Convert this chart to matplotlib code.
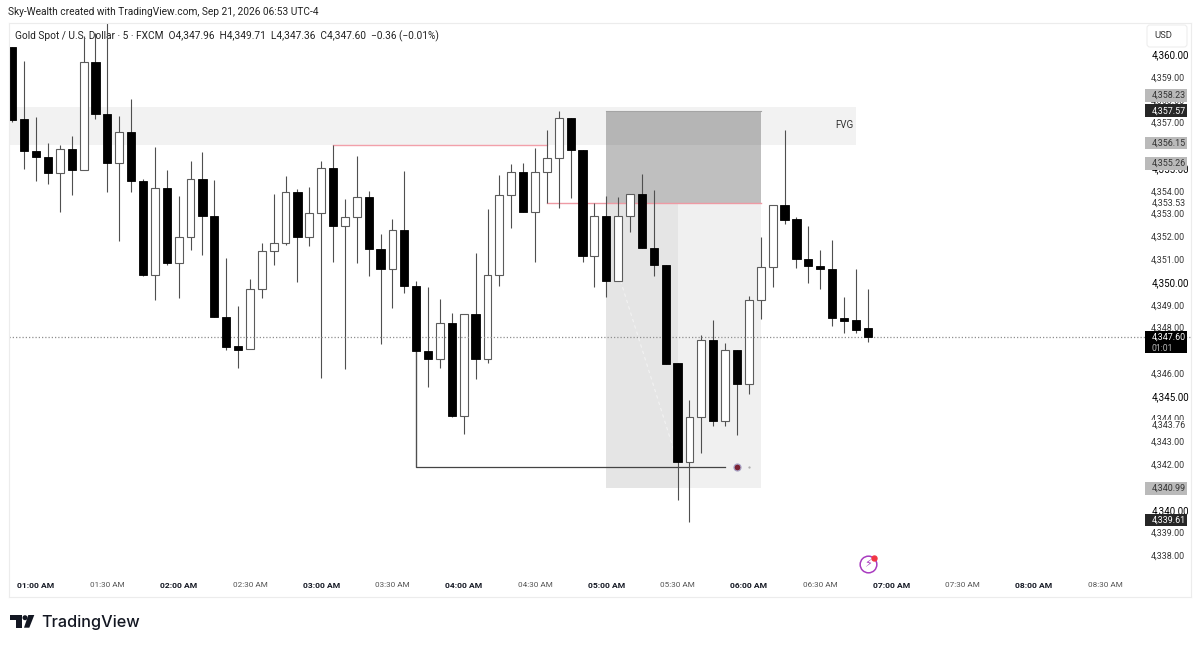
import matplotlib
matplotlib.use('Agg')
import matplotlib.pyplot as plt
from matplotlib.patches import Rectangle, Polygon, Circle, FancyBboxPatch
from matplotlib.transforms import Affine2D, blended_transform_factory

# candles, 5 min bars starting 00:50
opens = [4360.33, 4357.15, 4355.75, 4355.50, 4354.80, 4355.83, 4354.92, 4359.67, 4357.38, 4355.21,
         4356.57, 4354.42, 4350.32, 4354.14, 4350.82, 4351.99, 4354.51, 4352.89, 4348.45, 4347.19,
         4347.04, 4349.68, 4351.37, 4351.73, 4353.94, 4351.99, 4353.04, 4354.99, 4352.46, 4352.84,
         4353.72, 4351.44, 4350.57, 4352.27, 4349.81, 4346.97, 4346.63, 4348.19, 4344.13, 4348.58,
         4346.61, 4350.29, 4353.81, 4354.83, 4353.07, 4354.82, 4355.43, 4357.22, 4355.78, 4351.14,
         4352.91, 4350.06, 4352.91, 4353.85, 4351.49, 4350.75, 4346.43, 4342.08, 4344.08, 4347.45,
         4343.88, 4347.00, 4345.51, 4349.20, 4350.65, 4353.38, 4352.75, 4351.02, 4350.72, 4350.57,
         4348.42, 4348.32, 4347.96]
highs = [4360.33, 4359.72, 4357.23, 4356.09, 4356.00, 4356.41, 4360.80, 4360.94, 4361.39, 4357.29,
         4358.05, 4354.54, 4355.92, 4354.92, 4353.78, 4355.33, 4355.71, 4354.48, 4351.04, 4348.95,
         4350.13, 4351.73, 4353.87, 4354.66, 4354.07, 4354.16, 4355.30, 4356.02, 4353.66, 4355.53,
         4353.98, 4352.11, 4352.75, 4354.89, 4350.06, 4349.77, 4349.27, 4348.63, 4348.58, 4351.26,
         4353.19, 4354.69, 4355.18, 4355.21, 4355.87, 4356.68, 4357.51, 4357.22, 4355.78, 4353.46,
         4353.78, 4353.72, 4353.85, 4354.74, 4354.04, 4350.75, 4346.43, 4344.82, 4347.67, 4348.33,
         4347.31, 4347.00, 4349.40, 4351.96, 4353.38, 4356.68, 4352.84, 4352.46, 4351.39, 4351.85,
         4349.35, 4350.56, 4349.71]
lows = [4357.03, 4354.95, 4354.45, 4354.30, 4353.09, 4353.83, 4354.92, 4357.15, 4353.95, 4351.80,
        4353.95, 4350.26, 4349.21, 4350.76, 4349.31, 4351.41, 4351.17, 4348.45, 4347.01, 4346.24,
        4347.04, 4349.31, 4350.73, 4351.62, 4350.01, 4351.59, 4345.80, 4350.88, 4346.17, 4350.82,
        4350.28, 4347.28, 4348.85, 4349.53, 4341.88, 4345.38, 4346.24, 4344.08, 4343.33, 4345.74,
        4346.43, 4349.84, 4352.38, 4353.07, 4350.88, 4353.46, 4353.24, 4353.68, 4350.89, 4349.79,
        4349.33, 4350.06, 4352.21, 4351.48, 4350.26, 4346.40, 4340.43, 4339.45, 4342.48, 4343.68,
        4343.68, 4343.29, 4345.08, 4348.38, 4349.79, 4352.55, 4350.60, 4349.94, 4349.68, 4348.08,
        4347.75, 4347.75, 4347.36]
closes = [4357.11, 4355.75, 4355.50, 4354.80, 4355.83, 4354.92, 4359.67, 4357.38, 4355.21, 4356.57,
          4354.42, 4350.32, 4354.14, 4350.82, 4351.99, 4354.51, 4352.89, 4348.45, 4347.16, 4347.03,
          4349.68, 4351.37, 4351.73, 4353.94, 4351.99, 4353.04, 4354.99, 4352.46, 4352.84, 4353.72,
          4351.44, 4350.57, 4352.27, 4349.81, 4346.97, 4346.63, 4348.19, 4344.13, 4348.58, 4346.61,
          4350.29, 4353.81, 4354.83, 4353.07, 4354.83, 4355.43, 4357.22, 4355.78, 4351.14, 4352.91,
          4350.06, 4352.91, 4353.85, 4351.48, 4350.73, 4346.40, 4342.08, 4344.08, 4347.45, 4343.88,
          4347.00, 4345.51, 4349.20, 4350.65, 4353.38, 4352.72, 4351.02, 4350.70, 4350.56, 4348.41,
          4348.29, 4347.91, 4347.60]

# labels hidden behind tags in the chart are left out (4356, 4347, 4341)
price_ticks = [4360, 4359, 4358, 4357, 4355, 4354, 4353, 4352, 4351, 4350, 4349, 4348,
               4346, 4345, 4344, 4343, 4342, 4340, 4339, 4338]
major_prices = [4360, 4355, 4350, 4345, 4340]
time_labels = ['01:00 AM', '01:30 AM', '02:00 AM', '02:30 AM', '03:00 AM', '03:30 AM', '04:00 AM', '04:30 AM',
               '05:00 AM', '05:30 AM', '06:00 AM', '06:30 AM', '07:00 AM', '07:30 AM', '08:00 AM', '08:30 AM']
time_bars = [2, 8, 14, 20, 26, 32, 38, 44, 50, 56, 62, 68, 74, 80, 86, 92]

gray_tags = [4358.23, 4356.15, 4355.26, 4340.99]
dark_tags = [4357.57, 4339.61]
plain_tags = [4353.53, 4343.76]

last_price = 4347.60
fvg_top, fvg_bottom = 4357.67, 4356.03
box_top, box_mid, box_bottom = 4357.51, 4353.46, 4340.96
sweep_level = 4341.88
red_high = 4356.00

plt.rcParams['font.family'] = ['Roboto', 'DejaVu Sans']
W, H = 1199, 647
fig = plt.figure(figsize=(W / 100, H / 100), dpi=100, facecolor='white')
ax = fig.add_axes([8.5 / W, 1 - 597 / H, (1190.5 - 8.5) / W, (597 - 23) / H])

# pixel coords on the figure, y going down
px = Affine2D().scale(1 / W, -1 / H).translate(0, 1) + fig.transFigure

ax.set_xlim((8.5 - 12.3) / 11.88, (1190.5 - 12.3) / 11.88)
ax.set_ylim(4336.17, 4361.37)
for s in ax.spines.values():
    s.set_color('#ececec')
    s.set_linewidth(0.8)

# zones
ax.fill_between([-1, 71], fvg_bottom, fvg_top, color='#f2f2f2', lw=0, zorder=1)
ax.fill_between([50, 63], box_mid, box_top, color='black', alpha=0.25, lw=0, zorder=1.2)
ax.fill_between([50, 56], box_bottom, box_mid, color='black', alpha=0.10, lw=0, zorder=1.2)
ax.fill_between([56, 63], box_bottom, box_mid, color='black', alpha=0.06, lw=0, zorder=1.2)
ax.plot([50, 63], [box_top, box_top], color='#a4a4a4', lw=0.8, zorder=1.3)
ax.plot([51.2, 56], [4350.05, 4342.1], color='white', lw=0.8, ls=(0, (3, 3)), alpha=0.5, zorder=1.3)

# drawn levels
ax.plot([27, 45], [red_high, red_high], color='#f2a0aa', lw=1.0, zorder=1.5)
ax.plot([45, 63], [box_mid, box_mid], color='#ee9aa4', lw=1.0, zorder=1.5)
ax.plot([34, 34, 60], [4346.97, sweep_level, sweep_level], color='#444444', lw=0.9, zorder=1.5)

# candles
for i, (o, h, l, c) in enumerate(zip(opens, highs, lows, closes)):
    ax.plot([i, i], [l, h], color='#4f4f4f', lw=0.8, zorder=2, solid_capstyle='butt')
xs_up = [i for i in range(len(opens)) if closes[i] >= opens[i]]
xs_dn = [i for i in range(len(opens)) if closes[i] < opens[i]]
ax.bar(xs_up, [closes[i] - opens[i] for i in xs_up], bottom=[opens[i] for i in xs_up], width=0.66,
       facecolor='white', edgecolor='#5c5c5c', linewidth=0.8, zorder=2.1)
ax.axhline(last_price, color='#8f8f8f', lw=0.9, ls=(0, (1, 1.6)), zorder=2.2)
ax.bar(xs_dn, [closes[i] - opens[i] for i in xs_dn], bottom=[opens[i] for i in xs_dn], width=0.7,
       facecolor='black', edgecolor='black', linewidth=0.6, zorder=2.3)

# eye marker and lightning icon
ax.plot([61], [sweep_level], marker='o', ms=5, color='#7b2233', mec='#a8a2c4', mew=0.9, zorder=3)
ax.plot([62], [sweep_level], marker='.', ms=1.2, color='#aaaaaa', zorder=3)
ax.text(70, 4356.87, 'FVG', ha='center', va='center', fontsize=7, color='#333333', zorder=3)
ax.plot([72], [4337.62], marker='o', ms=12, mfc='white', mec='#a93cc0', mew=1.1, zorder=3)
ax.text(72, 4337.62, '\u26a1', ha='center', va='center', fontsize=8, color='#a93cc0', family='DejaVu Sans', zorder=3.1)
ax.plot([72.5], [4337.9], marker='o', ms=3.6, color='#f23645', zorder=3.2)

# price axis
trans = blended_transform_factory(ax.transAxes, ax.transData)
ax.yaxis.tick_right()
ax.set_yticks(price_ticks)
ax.set_yticklabels([f'{p:,.2f}' for p in price_ticks])
ax.tick_params(axis='y', length=0, pad=-28.3, labelsize=6.4, labelcolor='#333333')
for t, p in zip(ax.get_yticklabels(), price_ticks):
    if p in major_prices:
        t.set_fontsize(7)
        t.set_color('#000000')

# time axis
ax.set_xticks(time_bars)
ax.set_xticklabels(time_labels)
ax.tick_params(axis='x', length=0, pad=-10.8, labelsize=5.9, labelcolor='#555555')
for t, lab in zip(ax.get_xticklabels(), time_labels):
    if lab.endswith('00 AM'):
        t.set_fontweight('bold')
        t.set_fontsize(6.1)
        t.set_color('#131722')

# tags on the price axis
tag_x0 = (1145 - 8.5) / 1182
tag_w = 41.5 / 1182
text_x = (1151.5 - 8.5) / 1182
tag_off = 0.05
for p in gray_tags:
    ax.add_patch(Rectangle((tag_x0, p - tag_off - 0.275), tag_w, 0.55, transform=trans, fc='#bababa', ec='none', zorder=4, clip_on=False))
    ax.text(text_x, p - tag_off, f'{p:,.2f}', transform=trans, ha='left', va='center', fontsize=6.4, color='#333333', zorder=5)
for p in dark_tags:
    ax.add_patch(Rectangle((tag_x0, p - tag_off - 0.275), tag_w, 0.55, transform=trans, fc='#262626', ec='none', zorder=4, clip_on=False))
    ax.text(text_x, p - tag_off, f'{p:,.2f}', transform=trans, ha='left', va='center', fontsize=6.4, color='white', zorder=5)
for p in plain_tags:
    ax.add_patch(Rectangle((tag_x0, p - tag_off - 0.24), tag_w, 0.48, transform=trans, fc='white', ec='none', zorder=4))
    ax.text(text_x, p - tag_off, f'{p:,.2f}', transform=trans, ha='left', va='center', fontsize=6.4, color='#333333', zorder=5)
ax.add_patch(Rectangle((tag_x0, last_price - 0.72), tag_w, 0.95, transform=trans, fc='black', ec='none', zorder=4))
ax.text(text_x, last_price - 0.02, f'{last_price:,.2f}', transform=trans, ha='left', va='center', fontsize=6.4, color='white', zorder=5)
ax.text(text_x, last_price - 0.5, '01:01', transform=trans, ha='left', va='center', fontsize=6.2, color='#b8b8b8', zorder=5)

# text in the header
fig.text(8, 12, 'Sky-Wealth created with TradingView.com, Sep 21, 2026 06:53 UTC-4', transform=px,
         fontsize=7.26, color='#222222', va='center')
ax.text(15, 36, 'Gold Spot / U.S. Dollar \u00b7 5 \u00b7 FXCM  O4,347.96  H4,349.71  L4,347.36  C4,347.60  \u22120.36 (\u22120.01%)',
        transform=px, fontsize=7.28, color='#222222', va='center', zorder=1.8, clip_on=False)

# USD box
fig.patches.append(FancyBboxPatch((1149, 27), 36, 18, boxstyle='round,pad=2,rounding_size=3', transform=px,
                                  fc='white', ec='#eeeeee', lw=0.8, figure=fig))
fig.text(1163.5, 36, 'USD', transform=px, fontsize=6.8, color='#333333', ha='center', va='center')

# TradingView logo
fig.patches.append(Polygon([(10, 615), (22, 615), (22, 627.7), (16, 627.7), (16, 619.7), (10, 619.7)], transform=px, fc='#131722', ec='none', figure=fig))
fig.patches.append(Circle((25, 617.7), 2.5, transform=px, fc='#131722', ec='none', figure=fig))
fig.patches.append(Polygon([(28.3, 615), (34.3, 615), (29.3, 627.7), (24, 627.7)], transform=px, fc='#131722', ec='none', figure=fig))
fig.text(41.5, 622, 'TradingView', transform=px, fontsize=11.7, family=['Inter', 'DejaVu Sans'], fontweight='medium',
         color='#131722', va='center')

fig.savefig('out.png', dpi=100, facecolor='white')
